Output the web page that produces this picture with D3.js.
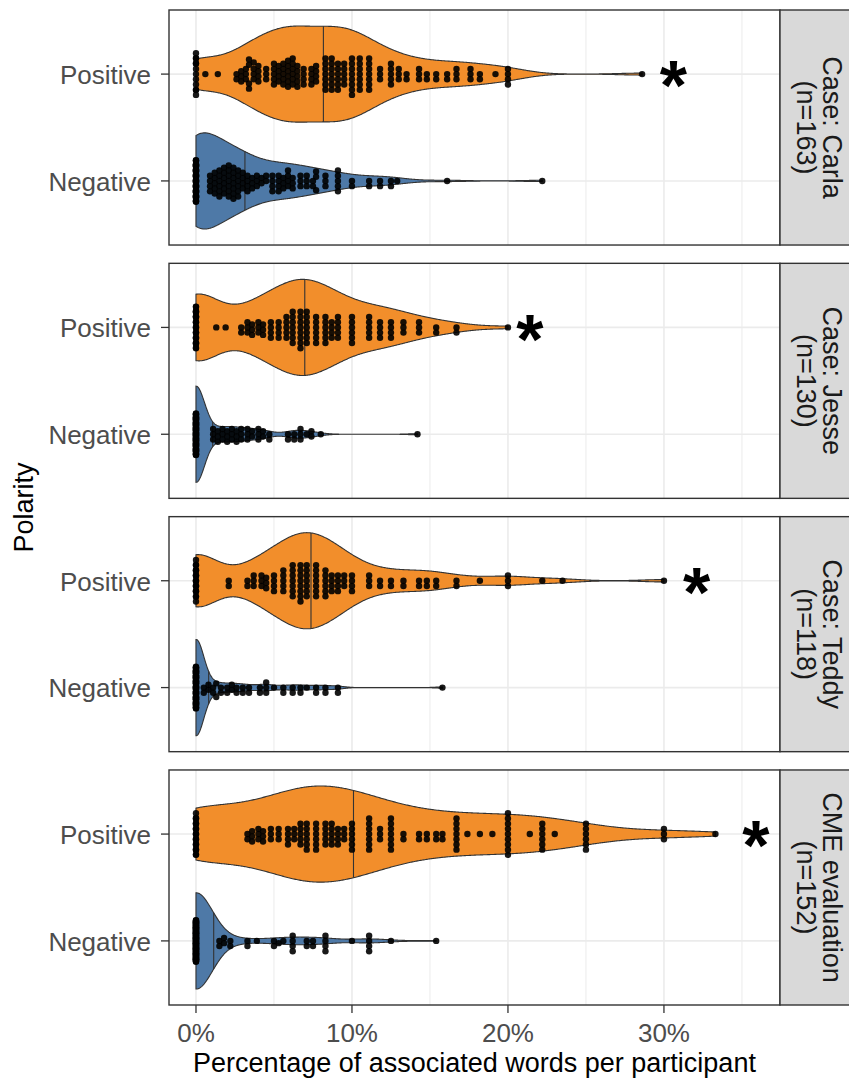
<!DOCTYPE html>
<html lang="en">
<head>
<meta charset="utf-8">
<title>Polarity violins</title>
<script src="https://cdn.jsdelivr.net/npm/d3@7"></script>
<style>
  body { margin: 0; background: #fff; }
  text { font-family: "Liberation Sans", Arial, sans-serif; }
</style>
</head>
<body>
<script>

// facets, top to bottom
var facets = ["Case: Carla", "Case: Jesse", "Case: Teddy", "CME evaluation"];
var facetN = [163, 130, 118, 152];
var polarity = ["Positive", "Negative"];
var xTicks = [0, 10, 20, 30];
var xMinor = [5, 15, 25, 35];
var starAt = [30.6, 21.4, 32.1, 35.9];   // where the "*" sits, in %

// [percentage of words, number of participants]
var carlaPos = [[0,12],[0.6,1],[1.4,1],[2.6,2],[2.9,3],[3.2,3],[3.4,4],[3.7,4],[4.0,4],
    [4.5,3],[5.0,5],[5.3,4],[5.6,5],[5.9,6],[6.2,6],[6.5,5],[6.9,4],[7.4,4],[7.7,4],
    [8.3,7],[8.7,7],[9.1,6],[9.5,5],[10.0,8],[10.5,7],[11.1,7],[11.8,3],[12.5,5],[13.0,3],
    [13.5,2],[14.3,3],[14.8,2],[15.4,2],[16.1,2],[16.7,3],[17.6,3],[18.2,2],[19.2,1],
    [20.0,4],[28.6,1]];
var carlaNeg = [[0,56],[0.9,4],[1.2,5],[1.5,6],[1.8,6],[2.1,7],[2.4,7],[2.7,6],
    [3.0,4],[3.3,4],[3.6,3],[3.9,3],[4.2,2],[4.5,2],[4.9,4],[5.3,4],[5.6,3],[5.9,4],[6.2,3],
    [6.7,3],[7.1,3],[7.5,2],[7.7,3],[8.3,3],[9.1,5],[10.0,2],[11.1,2],[11.8,2],[12.5,2],
    [12.9,1],[16.1,1],[22.2,1]];
var jessePos = [[0,28],[1.3,1],[1.9,1],[2.9,2],[3.3,3],[3.6,3],[4.0,3],[4.3,3],[4.8,4],
    [5.3,4],[5.8,5],[6.2,7],[6.7,8],[7.1,7],[7.7,6],[8.3,6],[8.7,4],[9.1,5],[10.0,6],
    [11.1,5],[11.8,4],[12.5,4],[13.3,3],[14.3,3],[15.4,2],[16.7,2],[20.0,1]];
var jesseNeg = [[0,85],[1.1,3],[1.4,3],[1.7,3],[2.0,3],[2.3,3],[2.6,3],[2.9,3],[3.3,3],
    [3.6,2],[4.0,3],[4.3,2],[4.7,2],[5.9,2],[6.3,2],[6.7,3],[7.1,1],[7.4,2],[8.0,1],[14.2,1]];
var teddyPos = [[0,21],[2.1,2],[3.3,2],[3.7,3],[4.2,3],[4.5,3],[5.0,4],[5.6,5],[6.2,7],
    [6.7,8],[7.1,7],[7.7,7],[8.3,6],[8.7,4],[9.1,4],[9.5,3],[10.0,4],[11.1,3],[11.8,2],
    [12.5,2],[13.3,2],[14.3,2],[14.8,2],[15.4,2],[16.7,2],[18.2,1],[20.0,3],[22.2,1],
    [23.5,1],[30.0,1]];
var teddyNeg = [[0,78],[0.5,2],[0.8,2],[1.1,2],[1.3,2],[1.6,2],[2.0,2],[2.3,2],[2.6,2],
    [3.0,2],[3.4,2],[4.1,2],[4.5,3],[5.0,1],[5.6,2],[6.2,2],[6.7,2],[7.1,1],[7.7,2],
    [8.3,2],[9.1,2],[15.8,1]];
var cmePos = [[0,24],[3.3,2],[3.6,3],[4.0,3],[4.3,3],[4.8,3],[5.3,3],[5.9,4],[6.3,3],
    [6.7,5],[7.1,6],[7.7,6],[8.3,5],[8.7,5],[9.1,4],[9.5,3],[10.0,6],[11.1,7],[11.8,3],
    [12.5,7],[13.3,2],[14.3,2],[14.8,2],[15.4,2],[15.8,2],[16.7,7],[17.4,1],[18.2,1],
    [19.0,1],[20.0,9],[21.4,1],[22.2,6],[23.0,1],[25.0,6],[30.0,3],[33.3,1]];
var cmeNeg = [[0,120],[1.5,2],[1.8,2],[2.2,2],[3.3,2],[3.9,1],[5.0,2],[5.3,1],[5.6,1],
    [6.2,4],[7.1,2],[7.5,2],[8.3,4],[10.0,1],[11.1,4],[12.5,1],[15.4,1]];

var groups = [[carlaPos, carlaNeg], [jessePos, jesseNeg], [teddyPos, teddyNeg], [cmePos, cmeNeg]];
var fills = {Positive: "#F28E2B", Negative: "#4E79A7"};

var W = 849, H = 1080;
var plotL = 169, plotR = 780, plotT = 10, plotB = 1005, gap = 18.3;
var ph = (plotB - plotT - 3 * gap) / 4;

var svg = d3.select("body").append("svg")
    .attr("width", W)
    .attr("height", H);

var x = d3.scaleLinear().domain([-1.73, 37.44]).range([plotL, plotR]);
var y = d3.scalePoint().domain(polarity).range([0, ph]).padding(0.6);
var halfW = 0.45 * y.step();

function expand(pairs) {
    var out = [];
    pairs.forEach(function(p) { for (var k = 0; k < p[1]; k++) out.push(p[0]); });
    return out.sort(d3.ascending);
}

// R's bw.nrd0
function nrd0(v) {
    var hi = d3.deviation(v);
    var iqr = d3.quantile(v, 0.75) - d3.quantile(v, 0.25);
    var lo = Math.min(hi, iqr / 1.34);
    if (!lo) lo = hi || Math.abs(v[0]) || 1;
    return 0.9 * lo * Math.pow(v.length, -0.2);
}

function violin(v) {
    var n = v.length, lo = v[0], hi = v[n - 1], bw = nrd0(v);
    var grid = d3.range(512).map(function(i) { return lo + (hi - lo) * i / 511; });
    var dens = grid.map(function(g) {
        return d3.sum(v, function(d) { var z = (g - d) / bw; return Math.exp(-0.5 * z * z); }) / (n * bw * Math.sqrt(2 * Math.PI));
    });
    var mx = d3.max(dens);
    var pts = grid.map(function(g, i) { return {v: g, w: dens[i] / mx}; });
    // median from the cumulative density, like draw_quantiles
    var cum = Array.from(d3.cumsum(dens)), tot = cum[cum.length - 1];
    var med = grid[0], medW = pts[0].w;
    for (var i = 1; i < cum.length; i++) {
        var a = cum[i - 1] / tot, b = cum[i] / tot;
        if (a <= 0.5 && b >= 0.5) {
            var t = (0.5 - a) / (b - a);
            med = grid[i - 1] + t * (grid[i] - grid[i - 1]);
            medW = pts[i - 1].w + t * (pts[i].w - pts[i - 1].w);
            break;
        }
    }
    return {pts: pts, med: med, medW: medW};
}

// beeswarm, then wrap offsets into a corral
function swarm(v, d, lim) {
    var placed = [];
    return v.map(function(val) {
        var px = x(val);
        var near = placed.filter(function(p) { return Math.abs(p.x - px) < d; });
        var cands = [0];
        near.forEach(function(p) {
            var dy = Math.sqrt(d * d - (px - p.x) * (px - p.x));
            cands.push(p.y + dy, p.y - dy);
        });
        cands.sort(function(a, b) { return Math.abs(a) - Math.abs(b); });
        var best = cands.find(function(c) {
            return near.every(function(p) {
                return (px - p.x) * (px - p.x) + (c - p.y) * (c - p.y) >= d * d - 0.01;
            });
        });
        placed.push({x: px, y: best});
        var off = ((best + lim) % (2 * lim) + 2 * lim) % (2 * lim) - lim;
        return {x: px, off: off};
    });
}

var area = d3.area()
    .x(function(d) { return x(d.v); })
    .y0(function(d) { return -d.w * halfW; })
    .y1(function(d) { return d.w * halfW; });

facets.forEach(function(name, i) {
    var g = svg.append("g")
        .attr("transform", "translate(0," + (plotT + i * (ph + gap)) + ")");

    g.append("rect")
        .attr("x", plotL).attr("y", 0)
        .attr("width", plotR - plotL).attr("height", ph)
        .attr("fill", "#fff");

    g.selectAll(".minor").data(xMinor).enter()
        .append("line")
        .attr("x1", function(d) { return x(d); })
        .attr("x2", function(d) { return x(d); })
        .attr("y1", 0).attr("y2", ph)
        .attr("stroke", "#EBEBEB").attr("stroke-width", 1);

    g.selectAll(".major").data(xTicks).enter()
        .append("line")
        .attr("x1", function(d) { return x(d); })
        .attr("x2", function(d) { return x(d); })
        .attr("y1", 0).attr("y2", ph)
        .attr("stroke", "#EBEBEB").attr("stroke-width", 1.6);

    g.selectAll(".hgrid").data(polarity).enter()
        .append("line")
        .attr("x1", plotL).attr("x2", plotR)
        .attr("y1", function(d) { return y(d); })
        .attr("y2", function(d) { return y(d); })
        .attr("stroke", "#EBEBEB").attr("stroke-width", 1.6);

    polarity.forEach(function(pol, j) {
        var vals = expand(groups[i][j]);
        var vi = violin(vals);
        var yc = y(pol);
        var vg = g.append("g").attr("transform", "translate(0," + yc + ")");

        vg.append("path")
            .attr("d", area(vi.pts))
            .attr("fill", fills[pol])
            .attr("stroke", "#333")
            .attr("stroke-width", 1.1);

        vg.append("line")
            .attr("x1", x(vi.med)).attr("x2", x(vi.med))
            .attr("y1", -vi.medW * halfW).attr("y2", vi.medW * halfW)
            .attr("stroke", "#333").attr("stroke-width", 1.1);

        vg.selectAll("circle").data(swarm(vals, 5.2, 21)).enter()
            .append("circle")
            .attr("cx", function(d) { return d.x; })
            .attr("cy", function(d) { return d.off; })
            .attr("r", 3.2)
            .attr("fill", "#000")
            .attr("fill-opacity", 0.9);
    });

    // significance mark
    g.append("text")
        .attr("x", x(starAt[i]))
        .attr("y", y("Positive") + 0.52 * 70)
        .attr("text-anchor", "middle")
        .attr("font-size", 70)
        .attr("font-weight", "bold")
        .attr("fill", "#000")
        .text("*");

    g.append("rect")
        .attr("x", plotL).attr("y", 0)
        .attr("width", plotR - plotL).attr("height", ph)
        .attr("fill", "none").attr("stroke", "#333").attr("stroke-width", 1.4);

    // strip
    g.append("rect")
        .attr("x", plotR).attr("y", 0)
        .attr("width", 90).attr("height", ph)
        .attr("fill", "#D9D9D9").attr("stroke", "#333").attr("stroke-width", 1.4);

    [[823, name], [797, "(n=" + facetN[i] + ")"]].forEach(function(l) {
        g.append("text")
            .attr("transform", "translate(" + l[0] + "," + (ph / 2) + ")rotate(90)")
            .attr("text-anchor", "middle")
            .attr("font-size", 27)
            .attr("fill", "#1A1A1A")
            .text(l[1]);
    });

    // y axis
    var yAxis = g.append("g");
    yAxis.selectAll("line").data(polarity).enter()
        .append("line")
        .attr("x1", plotL - 8).attr("x2", plotL)
        .attr("y1", function(d) { return y(d); })
        .attr("y2", function(d) { return y(d); })
        .attr("stroke", "#333").attr("stroke-width", 1.3);
    yAxis.selectAll("text").data(polarity).enter()
        .append("text")
        .attr("x", 151)
        .attr("y", function(d) { return y(d); })
        .attr("dy", "0.38em")
        .attr("text-anchor", "end")
        .attr("font-size", 26)
        .attr("fill", "#4D4D4D")
        .text(function(d) { return d; });
});

// x axis under the last panel
var xAxis = svg.append("g");
xAxis.selectAll("line").data(xTicks).enter()
    .append("line")
    .attr("x1", function(d) { return x(d); })
    .attr("x2", function(d) { return x(d); })
    .attr("y1", plotB).attr("y2", plotB + 8)
    .attr("stroke", "#333").attr("stroke-width", 1.3);
xAxis.selectAll("text").data(xTicks).enter()
    .append("text")
    .attr("x", function(d) { return x(d); })
    .attr("y", 1042)
    .attr("text-anchor", "middle")
    .attr("font-size", 26)
    .attr("fill", "#4D4D4D")
    .text(function(d) { return d + "%"; });

svg.append("text")
    .attr("x", (plotL + plotR) / 2)
    .attr("y", 1072)
    .attr("text-anchor", "middle")
    .attr("font-size", 27)
    .attr("fill", "#000")
    .text("Percentage of associated words per participant");

svg.append("text")
    .attr("transform", "translate(33," + ((plotT + plotB) / 2) + ")rotate(-90)")
    .attr("text-anchor", "middle")
    .attr("font-size", 27)
    .attr("fill", "#000")
    .text("Polarity");

</script>
</body>
</html>
